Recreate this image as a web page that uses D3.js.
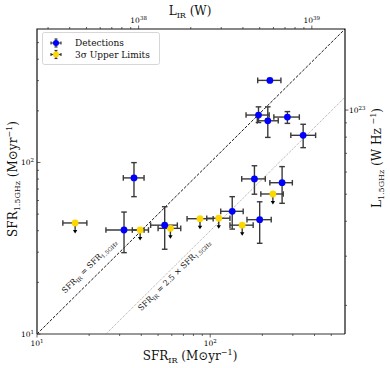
<!DOCTYPE html>
<html>
<head>
<meta charset="utf-8">
<script src="https://cdn.jsdelivr.net/npm/d3@7"></script>
<style>
  body { margin: 0; background: #fff; }
  svg { font-family: "DejaVu Serif", serif; }
</style>
</head>
<body>
<div id="chart"></div>
<script>
// detections: SFR_IR, SFR_1.5GHz with error ranges
const detX    = [36.3, 31.8, 54.6, 134, 193, 180, 260, 221, 190, 215, 279, 344];
const detXlo  = [31.5, 25.0, 45.3, 115, 163, 152, 221, 188, 161, 187, 233, 292];
const detXhi  = [41.5, 41.5, 64.6, 155, 225, 208, 298, 256, 219, 247, 327, 406];
const detY    = [81.3, 40.4, 43.1, 51.9, 46.4, 80.2, 76.2, 301, 189, 175, 184, 144];
const detYlo  = [63.2, 29.8, 31.2, 40.9, 33.8, 65.3, 57.8, 301, 171, 140, 169, 122];
const detYhi  = [99.8, 51.4, 55.2, 63.2, 59.0, 95.7, 94.6, 301, 211, 211, 198, 167];

// 3 sigma upper limits
const limX   = [16.6, 39.4, 58.9, 87.3, 112, 153, 230];
const limXlo = [14.1, 35.5, 50.0, 73.5, 95.5, 130, 196];
const limXhi = [19.4, 44.0, 67.6, 104, 130, 177, 264];
const limY   = [44.4, 40.4, 41.3, 47.0, 47.3, 43.1, 65.5];

const sfrTicks = [10, 100];
const lirTicks = [1e38, 1e39];
const lradTicks = [1e23];

const kIR = 2.59e36;      // W per Msun/yr

const W = 390, H = 368;
const L = 37, R = 345, T = 29, B = 334;

const svg = d3.select("#chart").append("svg")
    .attr("width", W).attr("height", H);

const x = d3.scaleLog().domain([10, 600]).range([L, R]);
const y = d3.scaleLog().domain([10, 600]).range([B, T]);
const xTop = d3.scaleLog().domain([10 * kIR, 600 * kIR]).range([L, R]);
const yRight = d3.scaleLog().domain([1.58e22, 1.95e23]).range([B, T]);

const sup = {"0":"⁰","1":"¹","2":"²","3":"³","4":"⁴","5":"⁵","6":"⁶","7":"⁷","8":"⁸","9":"⁹"};
function powLabel(sel, v) {
    const e = Math.round(Math.log10(v));
    sel.append("tspan").text("10");
    sel.append("tspan").attr("dy", -3.5).attr("font-size", 5.5).text(e);
}
function minors(scale) {
    const [a, b] = scale.domain();
    const out = [];
    for (let p = Math.floor(Math.log10(a)); p <= Math.ceil(Math.log10(b)); p++) {
        for (let m = 2; m <= 9; m++) {
            const v = m * Math.pow(10, p);
            if (v > a && v < b) out.push(v);
        }
    }
    return out;
}

// reference lines
const lineGen = d3.line().x(d => x(d[0])).y(d => y(d[1]));
svg.append("path")
    .attr("d", lineGen([[10, 10], [600, 600]]))
    .attr("stroke", "#000").attr("stroke-width", 0.9)
    .attr("stroke-dasharray", "3,1.5").attr("fill", "none");
svg.append("path")
    .attr("d", lineGen([[25, 10], [600, 240]]))
    .attr("stroke", "#888").attr("stroke-width", 0.8)
    .attr("stroke-dasharray", "1,1.2").attr("fill", "none");

const ang = -Math.atan((y(10) - y(100)) / (x(100) - x(10))) * 180 / Math.PI;

function sfrText(g, parts) {
    parts.forEach(p => {
        const t = g.append("tspan").text(p[0]);
        if (p[1]) t.attr("font-size", 5.5).attr("dy", 2);
        else if (p[2]) t.attr("dy", -2);
    });
}
const t1 = svg.append("text")
    .attr("transform", `translate(91,268) rotate(${ang})`)
    .attr("text-anchor", "middle").attr("font-size", 8).attr("fill", "#111");
t1.append("tspan").text("SFR");
t1.append("tspan").attr("font-size", 5.5).attr("dy", 2).text("IR");
t1.append("tspan").attr("dy", -2).text(" = SFR");
t1.append("tspan").attr("font-size", 5.5).attr("dy", 2).text("1.5GHz");

const t2 = svg.append("text")
    .attr("transform", `translate(176,277) rotate(${ang})`)
    .attr("text-anchor", "middle").attr("font-size", 8).attr("fill", "#111");
t2.append("tspan").text("SFR");
t2.append("tspan").attr("font-size", 5.5).attr("dy", 2).text("IR");
t2.append("tspan").attr("dy", -2).text(" = 2.5 × SFR");
t2.append("tspan").attr("font-size", 5.5).attr("dy", 2).text("1.5GHz");

// error bars
const ebColor = "#3a3a3a", cap = 2.8;
const eb = svg.append("g").attr("stroke", ebColor).attr("stroke-width", 1.4);

function hBar(xl, xh, yy) {
    eb.append("line").attr("x1", x(xl)).attr("x2", x(xh)).attr("y1", y(yy)).attr("y2", y(yy));
    [xl, xh].forEach(v => eb.append("line")
        .attr("x1", x(v)).attr("x2", x(v)).attr("y1", y(yy) - cap).attr("y2", y(yy) + cap));
}
function vBar(xx, yl, yh) {
    if (yl === yh) return;
    eb.append("line").attr("x1", x(xx)).attr("x2", x(xx)).attr("y1", y(yl)).attr("y2", y(yh));
    [yl, yh].forEach(v => eb.append("line")
        .attr("x1", x(xx) - cap).attr("x2", x(xx) + cap).attr("y1", y(v)).attr("y2", y(v)));
}

limX.forEach((d, i) => {
    hBar(limXlo[i], limXhi[i], limY[i]);
    const cx = x(d), cy = y(limY[i]);
    eb.append("line").attr("x1", cx).attr("x2", cx).attr("y1", cy).attr("y2", cy + 9);
    eb.append("path").attr("d", `M${cx - 2.2},${cy + 7} L${cx + 2.2},${cy + 7} L${cx},${cy + 10.5} Z`)
        .attr("fill", "#000").attr("stroke", "none");
});
detX.forEach((d, i) => {
    hBar(detXlo[i], detXhi[i], detY[i]);
    vBar(d, detYlo[i], detYhi[i]);
});

svg.append("g").selectAll("circle")
    .data(limX).join("circle")
    .attr("cx", d => x(d)).attr("cy", (d, i) => y(limY[i]))
    .attr("r", 3.4).attr("fill", "#ffd700");
svg.append("g").selectAll("circle")
    .data(detX).join("circle")
    .attr("cx", d => x(d)).attr("cy", (d, i) => y(detY[i]))
    .attr("r", 3.4).attr("fill", "#0000ff");

// frame
svg.append("line").attr("x1", L).attr("x2", R).attr("y1", B).attr("y2", B)
    .attr("stroke", "#777").attr("stroke-width", 1.6);
svg.append("path").attr("d", `M${L},${B} L${L},${T} L${R},${T} L${R},${B}`)
    .attr("fill", "none").attr("stroke", "#111").attr("stroke-width", 1.2);

// ticks
const tk = svg.append("g").attr("stroke", "#222").attr("stroke-width", 0.7);
minors(x).forEach(v => tk.append("line").attr("x1", x(v)).attr("x2", x(v)).attr("y1", B).attr("y2", B + 2));
sfrTicks.forEach(v => tk.append("line").attr("x1", x(v)).attr("x2", x(v)).attr("y1", B).attr("y2", B + 3.5));
minors(y).forEach(v => tk.append("line").attr("y1", y(v)).attr("y2", y(v)).attr("x1", L).attr("x2", L + 2));
sfrTicks.forEach(v => tk.append("line").attr("y1", y(v)).attr("y2", y(v)).attr("x1", L).attr("x2", L + 3.5));
minors(xTop).forEach(v => tk.append("line").attr("x1", xTop(v)).attr("x2", xTop(v)).attr("y1", T).attr("y2", T - 2));
lirTicks.forEach(v => tk.append("line").attr("x1", xTop(v)).attr("x2", xTop(v)).attr("y1", T).attr("y2", T - 3.5));
minors(yRight).forEach(v => tk.append("line").attr("y1", yRight(v)).attr("y2", yRight(v)).attr("x1", R).attr("x2", R + 2));
lradTicks.forEach(v => tk.append("line").attr("y1", yRight(v)).attr("y2", yRight(v)).attr("x1", R).attr("x2", R + 3.5));

// tick labels
sfrTicks.forEach(v => {
    const t = svg.append("text").attr("x", x(v)).attr("y", B + 12)
        .attr("text-anchor", "middle").attr("font-size", 7.5);
    powLabel(t, v);
    const t2 = svg.append("text").attr("x", L - 3).attr("y", y(v) + 3)
        .attr("text-anchor", "end").attr("font-size", 7.5);
    powLabel(t2, v);
});
lirTicks.forEach(v => {
    const t = svg.append("text").attr("x", xTop(v)).attr("y", T - 6)
        .attr("text-anchor", "middle").attr("font-size", 7.5);
    powLabel(t, v);
});
lradTicks.forEach(v => {
    const t = svg.append("text").attr("x", R + 4).attr("y", yRight(v) + 3)
        .attr("text-anchor", "start").attr("font-size", 7.5);
    powLabel(t, v);
});

// axis titles
function title(tx, ty, rot, main, sub, rest, supTxt, tail) {
    const t = svg.append("text")
        .attr("transform", `translate(${tx},${ty}) rotate(${rot})`)
        .attr("text-anchor", "middle").attr("font-size", 12).attr("fill", "#111");
    t.append("tspan").text(main);
    t.append("tspan").attr("font-size", 8).attr("dy", 3).text(sub);
    t.append("tspan").attr("dy", -3).text(rest);
    if (supTxt) {
        t.append("tspan").attr("font-size", 8).attr("dy", -5).text(supTxt);
        t.append("tspan").attr("dy", 5).text(tail);
    }
}
title(190, 360, 0, "SFR", "IR", " (M⊙yr", "−1", ")");
title(17, 179, -90, "SFR", "1.5GHz", " (M⊙yr", "−1", ")");
title(190, 15, 0, "L", "IR", " (W)", null, null);
title(381, 158, -90, "L", "1.5GHz", " (W Hz ", "−1", ")");

// legend
const lg = svg.append("g");
lg.append("rect").attr("x", 42.5).attr("y", 32.5).attr("width", 117).attr("height", 32)
    .attr("rx", 2).attr("fill", "#fff").attr("fill-opacity", 0.8)
    .attr("stroke", "#ccc").attr("stroke-width", 0.8);
const legItems = [
    {label: "Detections", color: "#0000ff", yy: 43},
    {label: "3σ Upper Limits", color: "#ffd700", yy: 54.5}
];
legItems.forEach(d => {
    const g = lg.append("g").attr("stroke", ebColor).attr("stroke-width", 1.2);
    g.append("line").attr("x1", 51).attr("x2", 61).attr("y1", d.yy).attr("y2", d.yy);
    g.append("line").attr("x1", 56).attr("x2", 56).attr("y1", d.yy - 4).attr("y2", d.yy + 4);
    g.append("line").attr("x1", 51).attr("x2", 51).attr("y1", d.yy - 1.5).attr("y2", d.yy + 1.5);
    g.append("line").attr("x1", 61).attr("x2", 61).attr("y1", d.yy - 1.5).attr("y2", d.yy + 1.5);
    g.append("line").attr("x1", 54.5).attr("x2", 57.5).attr("y1", d.yy - 4).attr("y2", d.yy - 4);
    g.append("line").attr("x1", 54.5).attr("x2", 57.5).attr("y1", d.yy + 4).attr("y2", d.yy + 4);
    lg.append("circle").attr("cx", 56).attr("cy", d.yy).attr("r", 3).attr("fill", d.color);
    lg.append("text").attr("x", 75).attr("y", d.yy + 3.3).attr("font-size", 9).attr("fill", "#111")
        .text(d.label);
});
</script>
</body>
</html>
